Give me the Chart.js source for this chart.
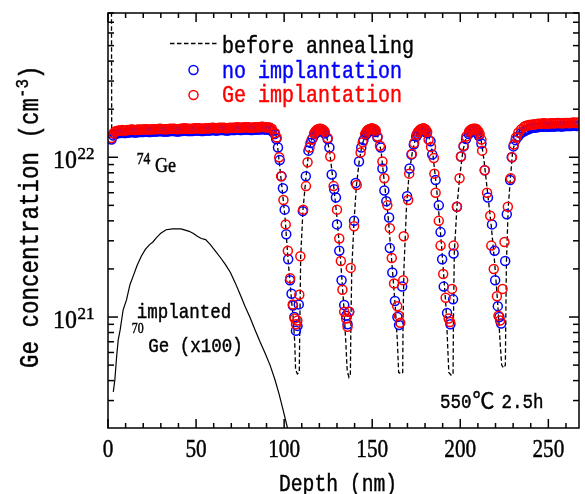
<!DOCTYPE html>
<html>
<head>
<meta charset="utf-8">
<script src="https://cdn.jsdelivr.net/npm/chart.js"></script>
<style>
  html, body { margin: 0; padding: 0; background: #fff; }
  canvas { display: block; }
</style>
</head>
<body>
<canvas id="c" width="585" height="494"></canvas>
<script>
// concentrations are in units of 1e21 cm^-3, depths in nm

// blue circles: no implantation
var noImplDepth = [
  2, 3, 4, 5, 6, 7, 8, 9, 10, 11, 12, 13, 14, 15, 16, 17, 18, 19, 20, 21, 22, 23, 24, 25, 26, 27, 28, 29, 30, 31,
  32, 33, 34, 35, 36, 37, 38, 39, 40, 41, 42, 43, 44, 45, 46, 47, 48, 49, 50, 51, 52, 53, 54, 55, 56, 57, 58, 59, 60, 61,
  62, 63, 64, 65, 66, 67, 68, 69, 70, 71, 72, 73, 74, 75, 76, 77, 78, 79, 80, 81, 82, 83, 84, 85, 86, 87, 88, 89, 90, 91,
  92, 93,
  94.6, 95.5, 96.5, 97.5, 98.5, 99.3, 100.3, 101.2, 102.3, 103.3, 104.2, 105.0, 105.8, 106.7,
  107.6, 108.3, 110.6, 112.3, 113.8, 115.0, 116.3, 117.6, 118.3, 119.0, 119.7, 120.5, 121.1, 121.8, 122.4,
  123.0, 124.7, 125.7, 127.0, 128.4, 129.4, 130.0, 131.3, 132.6, 134.1, 135.2, 136.0, 136.9,
  139.7, 140.6, 142.5, 143.8, 145.0, 146.3, 147.0, 147.6, 148.3, 149.0, 149.7, 150.4, 151.1, 151.8,
  153.0, 154.9, 155.8, 156.9, 158.0, 159.6, 160.0, 161.4, 162.9, 164.3, 165.2,
  167.0, 169.8, 171.2, 172.3, 173.6, 175.0, 175.8, 176.5, 177.2, 178.0, 178.8, 179.5, 180.2, 181.0,
  183.1, 184.1, 186.0, 187.8, 188.8, 189.7, 190.6, 192.5, 194.4,
  195.9, 196.2, 198.1, 200.4, 201.9, 203.3, 204.8, 205.5, 206.3, 207.0, 207.8, 208.5, 209.3, 210.0,
  210.6, 212.0, 213.9, 215.7, 218.0, 219.5, 219.8, 221.3, 222.2, 223.2,
  225.5, 226.4, 228.3, 229.2, 230.2, 231.4, 232.8, 234.3, 236.0,
  237, 238, 239, 240, 241, 242, 243, 244, 245, 246, 247, 248, 249, 250, 251, 252,
  253, 254, 255, 256, 257, 258, 259, 260, 261, 262, 263, 264, 265, 266, 267
];
var noImplConc = [
  12.9, 13.7, 14.0, 14.1, 14.2, 14.2, 14.3, 14.2, 14.2, 14.3, 14.3, 14.4, 14.4, 14.3, 14.3, 14.4, 14.4, 14.4, 14.4, 14.5, 14.5, 14.4, 14.4, 14.5, 14.5, 14.5, 14.5, 14.6, 14.6, 14.5,
  14.5, 14.5, 14.5, 14.6, 14.6, 14.6, 14.6, 14.5, 14.5, 14.6, 14.6, 14.7, 14.7, 14.6, 14.6, 14.6, 14.6, 14.7, 14.7, 14.7, 14.7, 14.6, 14.6, 14.7, 14.7, 14.7, 14.7, 14.8, 14.8, 14.7,
  14.7, 14.8, 14.8, 14.8, 14.8, 14.7, 14.7, 14.8, 14.8, 14.8, 14.8, 14.9, 14.9, 14.8, 14.8, 14.9, 14.9, 14.9, 14.9, 14.8, 14.8, 14.9, 14.9, 14.9, 14.9, 15.0, 15.0, 14.9, 14.9, 14.9,
  14.8, 14.6,
  14.0, 13.0, 11.5, 9.6, 7.6, 6.4, 4.7, 3.3, 2.3, 1.7, 1.4, 1.18, 1.0, 0.82,
  0.88, 1.2, 4.6, 7.6, 11.0, 12.3, 13.2, 14.0, 14.3, 14.5, 14.6, 14.7, 14.7, 14.6, 14.4,
  14.1, 13.0, 11.5, 7.8, 6.3, 5.6, 3.8, 2.6, 1.7, 1.19, 1.02, 0.9, 1.08,
  4.0, 6.9, 9.4, 11.5, 12.8, 13.8, 14.1, 14.4, 14.6, 14.7, 14.7, 14.7, 14.6, 14.4,
  13.3, 11.5, 8.5, 6.2, 5.3, 4.2, 2.7, 1.9, 1.26, 1.0, 0.89,
  1.55, 5.7, 8.5, 10.4, 12.0, 13.5, 14.0, 14.3, 14.6, 14.7, 14.8, 14.7, 14.5, 14.2,
  12.6, 10.4, 7.2, 5.0, 3.4, 2.3, 1.55, 1.06, 0.9,
  1.29, 2.5, 4.9, 10.1, 11.7, 13.0, 14.0, 14.3, 14.5, 14.6, 14.7, 14.7, 14.5, 14.1,
  13.6, 12.2, 8.3, 5.6, 3.8, 2.6, 1.7, 1.17, 1.0, 0.91,
  2.24, 4.4, 7.2, 10.0, 11.7, 12.8, 13.5, 14.1, 14.5,
  14.7, 14.9, 15.0, 15.2, 15.3, 15.3, 15.4, 15.4, 15.5, 15.5, 15.5, 15.6, 15.6, 15.5, 15.6, 15.6,
  15.6, 15.6, 15.7, 15.7, 15.6, 15.6, 15.7, 15.7, 15.7, 15.7, 15.7, 15.8, 15.8, 15.7, 15.8
];

// red circles: Ge implantation
var geImplDepth = [
  2, 3, 4, 5, 6, 7, 8, 9, 10, 11, 12, 13, 14, 15, 16, 17, 18, 19, 20, 21, 22, 23, 24, 25, 26, 27, 28, 29, 30, 31,
  32, 33, 34, 35, 36, 37, 38, 39, 40, 41, 42, 43, 44, 45, 46, 47, 48, 49, 50, 51, 52, 53, 54, 55, 56, 57, 58, 59, 60, 61,
  62, 63, 64, 65, 66, 67, 68, 69, 70, 71, 72, 73, 74, 75, 76, 77, 78, 79, 80, 81, 82, 83, 84, 85, 86, 87, 88, 89, 90, 91,
  92, 93,
  94.8, 95.8, 97.2, 98.3, 99.6, 100.9, 102.1, 103.4, 104.9, 106.0, 106.7, 107.5,
  108.6, 109.2, 110.8, 112.4, 113.3, 114.4, 115.6, 117.0, 117.7, 118.5, 119.2, 120.0, 120.7, 121.5, 122.2,
  123.0, 124.7, 126.2, 128.1, 130.0, 131.3, 132.2, 133.1, 134.1, 135.2, 136.0, 136.9,
  137.8, 139.7, 141.2, 143.4, 144.6, 146.0, 146.8, 147.5, 148.2, 149.0, 149.8, 150.5, 151.3, 152.0,
  153.0, 154.4, 155.8, 156.9, 158.6, 160.0, 161.1, 162.4, 164.2, 165.2, 165.9,
  167.6, 167.9, 170.4, 171.0, 172.5, 173.8, 175.2, 176.0, 176.8, 177.5, 178.3, 179.0, 179.8, 180.5, 181.2,
  182.0, 183.4, 185.0, 185.3, 186.0, 187.8, 188.8, 190.3, 191.7, 193.4, 194.2,
  195.3, 196.2, 198.1, 199.6, 200.4, 201.9, 203.4, 205.0, 205.8, 206.5, 207.2, 208.0, 208.8, 209.5, 210.3,
  211.0, 212.0, 212.4, 213.9, 215.2, 217.0, 217.6, 219.0, 220.8, 221.7, 222.6,
  224.0, 225.1, 227.0, 228.6, 229.4, 230.4, 231.6, 233.0, 234.6, 236.2,
  237, 238, 239, 240, 241, 242, 243, 244, 245, 246, 247, 248, 249, 250, 251, 252,
  253, 254, 255, 256, 257, 258, 259, 260, 261, 262, 263, 264, 265, 266, 267
];
var geImplConc = [
  13.2, 14.1, 14.5, 14.6, 14.7, 14.7, 14.8, 14.7, 14.7, 14.8, 14.8, 14.9, 14.9, 14.8, 14.8, 14.9, 14.9, 14.9, 14.9, 15.0, 15.0, 14.9, 14.9, 15.0, 15.0, 15.0, 15.0, 15.1, 15.1, 15.0,
  15.0, 15.0, 15.0, 15.1, 15.1, 15.1, 15.1, 15.0, 15.0, 15.1, 15.1, 15.2, 15.2, 15.1, 15.1, 15.1, 15.1, 15.2, 15.2, 15.2, 15.2, 15.1, 15.1, 15.2, 15.2, 15.2, 15.2, 15.3, 15.3, 15.2,
  15.2, 15.3, 15.3, 15.3, 15.3, 15.2, 15.2, 15.3, 15.3, 15.3, 15.3, 15.4, 15.4, 15.3, 15.3, 15.4, 15.4, 15.4, 15.4, 15.3, 15.3, 15.4, 15.4, 15.4, 15.4, 15.5, 15.5, 15.4, 15.4, 15.4,
  15.3, 15.1,
  14.2, 13.3, 10.0, 7.6, 5.4, 3.8, 2.6, 1.75, 1.2, 0.98, 0.9, 0.95,
  1.38, 2.4, 4.7, 6.6, 9.3, 11.5, 12.9, 14.1, 14.5, 14.8, 15.0, 15.1, 15.1, 15.0, 14.8,
  14.5, 13.2, 10.1, 6.6, 4.7, 3.1, 2.24, 1.48, 1.08, 0.98, 0.87, 1.08,
  2.03, 3.7, 6.7, 10.7, 12.4, 14.0, 14.5, 14.8, 15.0, 15.1, 15.2, 15.1, 15.0, 14.7,
  13.5, 11.8, 9.4, 7.4, 5.0, 3.6, 2.34, 1.62, 1.17, 1.02, 0.92,
  1.7, 3.2, 5.4, 7.9, 10.5, 12.3, 13.9, 14.4, 14.7, 15.0, 15.1, 15.2, 15.1, 14.8, 14.4,
  12.9, 11.6, 9.9, 7.9, 6.0, 4.0, 2.8, 1.86, 1.32, 0.98, 0.93,
  1.5, 2.8, 4.9, 7.4, 10.1, 11.8, 13.5, 14.5, 14.8, 15.0, 15.1, 15.1, 15.1, 14.9, 14.5,
  14.0, 12.9, 11.0, 8.3, 6.0, 4.3, 2.8, 2.0, 1.35, 1.02, 0.95,
  1.5, 2.95, 4.9, 7.4, 10.0, 12.0, 13.3, 14.3, 15.0, 15.5,
  15.7, 15.8, 15.9, 16.0, 16.0, 16.1, 16.1, 16.2, 16.2, 16.2, 16.3, 16.3, 16.2, 16.2, 16.3, 16.3,
  16.3, 16.3, 16.4, 16.4, 16.3, 16.3, 16.4, 16.4, 16.4, 16.4, 16.4, 16.5, 16.5, 16.4, 16.5
];

// dashed line: before annealing
var beforeDepth = [
  1.9, 2.1, 6, 20, 40, 60, 80, 93, 94.5, 96,
  98.5, 100.5, 102.2, 104, 105.1, 106.0, 106.5, 107.5, 108.6, 108.9,
  109.4, 110.7, 112.3, 113.8, 115.5, 117.5, 120, 122, 124, 126,
  128, 130, 132, 133.8, 135, 135.8, 136.8, 137.6, 137.9, 138.4,
  139.7, 141, 142.7, 144.3, 146.3, 149, 151, 153, 155, 157,
  159, 161, 163, 164.3, 165, 166.5, 167.3, 167.5, 168, 169.5,
  171, 172.8, 174.5, 176.5, 178.5, 180.5, 182.5, 184.5, 186.5, 188.5,
  190.5, 192, 193, 193.5, 195, 195.9, 196.1, 196.6, 198.1, 199.8,
  201.5, 203.5, 205.5, 207.5, 209.5, 211.5, 213.5, 215.5, 217.5, 219.5,
  221.3, 222.6, 223.5, 224.6, 225.6, 225.8, 226.2, 227.2, 228.5, 229.6,
  231, 233, 235, 238, 242, 250, 267
];
var beforeConc = [
  300, 14.0, 14.8, 15.2, 15.5, 15.8, 16.0, 16.1, 15.5, 12.5,
  6.9, 4.2, 2.3, 1.35, 1.0, 0.7, 0.47, 0.44, 0.45, 0.9,
  2.4, 4.7, 7.3, 10.5, 12.8, 14.5, 15.3, 15.2, 13.8, 10.5,
  6.8, 4.2, 2.3, 1.2, 0.7, 0.46, 0.42, 0.44, 0.9, 2.0,
  4.0, 6.6, 9.6, 12.0, 14.0, 15.3, 15.2, 13.8, 11.0, 6.8,
  4.3, 2.3, 1.2, 0.7, 0.45, 0.44, 0.45, 0.9, 2.0, 5.0,
  8.0, 10.8, 13.0, 14.6, 15.3, 15.1, 13.0, 10.3, 6.5, 3.7,
  1.9, 1.1, 0.6, 0.45, 0.43, 0.44, 0.9, 2.5, 4.9, 7.8,
  11.0, 13.5, 14.9, 15.3, 15.1, 13.6, 9.5, 6.0, 3.8, 2.2,
  1.2, 0.7, 0.5, 0.48, 0.5, 0.9, 2.2, 4.8, 7.5, 10.5,
  12.6, 14.2, 15.1, 15.9, 16.3, 16.5, 16.7
];

// solid line: implanted 70Ge (x100)
var implDepth = [
  3.0, 3.9, 4.9, 5.8, 6.9, 8.6, 10.5, 12.5, 14.2, 16.5, 18.9, 21.2, 23.6, 25.5, 27.4, 30, 33, 36.7, 39, 41.4,
  43.8, 46.1, 48.5, 50.7, 53, 55.4, 58, 61.1, 63.9, 66.7, 69.5, 72.3, 75.1, 77.9, 80.7, 83.5, 86.3, 89.2, 92, 94.8,
  97.1, 99.4, 101.9, 103
];
var implConc = [
  0.34, 0.405, 0.566, 0.72, 0.83, 1.11, 1.28, 1.6, 1.79, 2.1, 2.4, 2.65, 2.84, 2.95, 3.13, 3.35, 3.52, 3.56, 3.57, 3.56,
  3.5, 3.44, 3.33, 3.2, 3.1, 3.05, 2.85, 2.58, 2.35, 2.13, 1.9, 1.63, 1.38, 1.16, 0.99, 0.83, 0.7, 0.594, 0.5, 0.405,
  0.33, 0.262, 0.202, 0.18
];

var xTicks = [0, 50, 100, 150, 200, 250];
var yTicks = [1e21, 1e22];
var yTickExp = ['21', '22'];

var MONO = '"Liberation Mono", "DejaVu Sans Mono", monospace';
var SERIF = '"Liberation Serif", "DejaVu Serif", serif';
var BLUE = '#0000ff', RED = '#ff0000';

function toPoints(xs, ys) {
  return xs.map(function (d, i) { return {x: d, y: ys[i] * 1e21}; });
}

/* text drawn squeezed horizontally and a little heavier, returns the width used */
function text(ctx, s, x, y, size, family, sx, color, align) {
  ctx.save();
  ctx.font = size + 'px ' + family;
  ctx.fillStyle = color || '#000';
  ctx.strokeStyle = color || '#000';
  ctx.lineWidth = 0.45;
  ctx.setLineDash([]);
  ctx.textAlign = align || 'left';
  ctx.textBaseline = 'alphabetic';
  ctx.translate(x, y);
  ctx.scale(sx, 1);
  ctx.fillText(s, 0, 0);
  ctx.strokeText(s, 0, 0);
  var w = ctx.measureText(s).width * sx;
  ctx.restore();
  return w;
}

function seg(ctx, x1, y1, x2, y2) {
  ctx.beginPath(); ctx.moveTo(x1, y1); ctx.lineTo(x2, y2); ctx.stroke();
}

var decor = {
  id: 'decor',
  afterDraw: function (chart) {
    var ctx = chart.ctx, a = chart.chartArea, xs = chart.scales.x, ys = chart.scales.y;
    ctx.save();
    ctx.strokeStyle = '#000';
    ctx.lineWidth = 1.5;
    ctx.strokeRect(a.left, a.top, a.right - a.left, a.bottom - a.top);

    // inward ticks, top and bottom
    for (var v = 0; v <= xs.max; v += 10) {
      var px = xs.getPixelForValue(v);
      var len = v % 50 === 0 ? 9 : 5;
      seg(ctx, px, a.bottom, px, a.bottom - len);
      seg(ctx, px, a.top, px, a.top + len);
    }
    // inward ticks, left and right
    for (var e = 20; e <= 22; e++) {
      for (var m = 1; m <= 9; m++) {
        var val = m * Math.pow(10, e);
        if (val < ys.min || val > ys.max) continue;
        var py = ys.getPixelForValue(val);
        var l2 = m === 1 ? 10 : 6;
        seg(ctx, a.left, py, a.left + l2, py);
        seg(ctx, a.right, py, a.right - l2, py);
      }
    }

    // tick labels
    xTicks.forEach(function (t) {
      text(ctx, String(t), xs.getPixelForValue(t), a.bottom + 29, 25, SERIF, 0.85, '#000', 'center');
    });
    yTicks.forEach(function (t, i) {
      var py = ys.getPixelForValue(t);
      text(ctx, '10', 77, py + 11, 26, SERIF, 0.92, '#000', 'right');
      text(ctx, yTickExp[i], 77.5, py + 1.5, 17, SERIF, 1.0, '#000', 'left');
    });

    // axis titles
    text(ctx, 'Depth (nm)', 279, 491, 24, MONO, 0.82);
    ctx.save();
    ctx.translate(38, 368);
    ctx.rotate(-Math.PI / 2);
    var w = text(ctx, 'Ge concentration (cm', 0, 0, 27, MONO, 0.833);
    w += text(ctx, '-3', w, -10, 19, MONO, 0.833);
    text(ctx, ')', w, 0, 27, MONO, 0.833);
    ctx.restore();

    // legend
    ctx.save();
    ctx.lineWidth = 1.3;
    ctx.setLineDash([4.5, 2.5]);
    seg(ctx, 170, 43.5, 219, 43.5);
    ctx.restore();
    text(ctx, 'before annealing', 222, 53, 24, MONO, 0.833);
    ctx.lineWidth = 1.5;
    ctx.strokeStyle = BLUE;
    ctx.beginPath(); ctx.arc(193.5, 70, 4.5, 0, Math.PI * 2); ctx.stroke();
    text(ctx, 'no implantation', 222, 78, 24, MONO, 0.833, BLUE);
    ctx.strokeStyle = RED;
    ctx.beginPath(); ctx.arc(193.5, 95, 4.5, 0, Math.PI * 2); ctx.stroke();
    text(ctx, 'Ge implantation', 222, 102, 24, MONO, 0.833, RED);

    // annotations
    text(ctx, '74', 136.7, 164, 16, SERIF, 0.85);
    text(ctx, 'Ge', 155, 172, 22, SERIF, 0.82);
    text(ctx, 'implanted', 136.7, 318, 21, MONO, 0.833);
    text(ctx, '70', 131.7, 333, 14, SERIF, 0.85);
    text(ctx, 'Ge (x100)', 148.3, 352, 21, MONO, 0.833);
    var x0 = 440;
    x0 += text(ctx, '550', x0, 408, 21, MONO, 0.833);
    x0 += text(ctx, '\u2103', x0 + 1, 408, 22, '"Noto Sans CJK SC", "DejaVu Sans", sans-serif', 1.0);
    text(ctx, '2.5h', x0 + 8, 408, 21, MONO, 0.833);
    ctx.restore();
  }
};

var circleStyle = {
  showLine: false,
  pointStyle: 'circle',
  pointRadius: 4.5,
  pointHoverRadius: 4.5,
  pointBorderWidth: 1.5,
  pointBackgroundColor: 'rgba(0,0,0,0)'
};

new Chart(document.getElementById('c'), {
  type: 'scatter',
  data: {
    datasets: [
      Object.assign({label: 'Ge implantation', data: toPoints(geImplDepth, geImplConc),
        borderColor: RED, pointBorderColor: RED, order: 1}, circleStyle),
      Object.assign({label: 'no implantation', data: toPoints(noImplDepth, noImplConc),
        borderColor: BLUE, pointBorderColor: BLUE, order: 2}, circleStyle),
      {label: 'before annealing', type: 'line', data: toPoints(beforeDepth, beforeConc),
        borderColor: '#000', borderWidth: 1.3, borderDash: [4.5, 2.5], pointRadius: 0,
        fill: false, tension: 0, order: 3},
      {label: 'implanted 70Ge (x100)', type: 'line', data: toPoints(implDepth, implConc),
        borderColor: '#000', borderWidth: 1.2, pointRadius: 0, fill: false, tension: 0, order: 4}
    ]
  },
  options: {
    responsive: false,
    animation: false,
    devicePixelRatio: 1,
    layout: {padding: {left: 108, top: 13, right: 1, bottom: 66}},
    scales: {
      x: {type: 'linear', min: 0, max: 267.4, display: false},
      y: {type: 'logarithmic', min: 2.02e20, max: 8e22, display: false}
    },
    plugins: {legend: {display: false}, tooltip: {enabled: false}},
    events: []
  },
  plugins: [decor]
});
</script>
</body>
</html>
